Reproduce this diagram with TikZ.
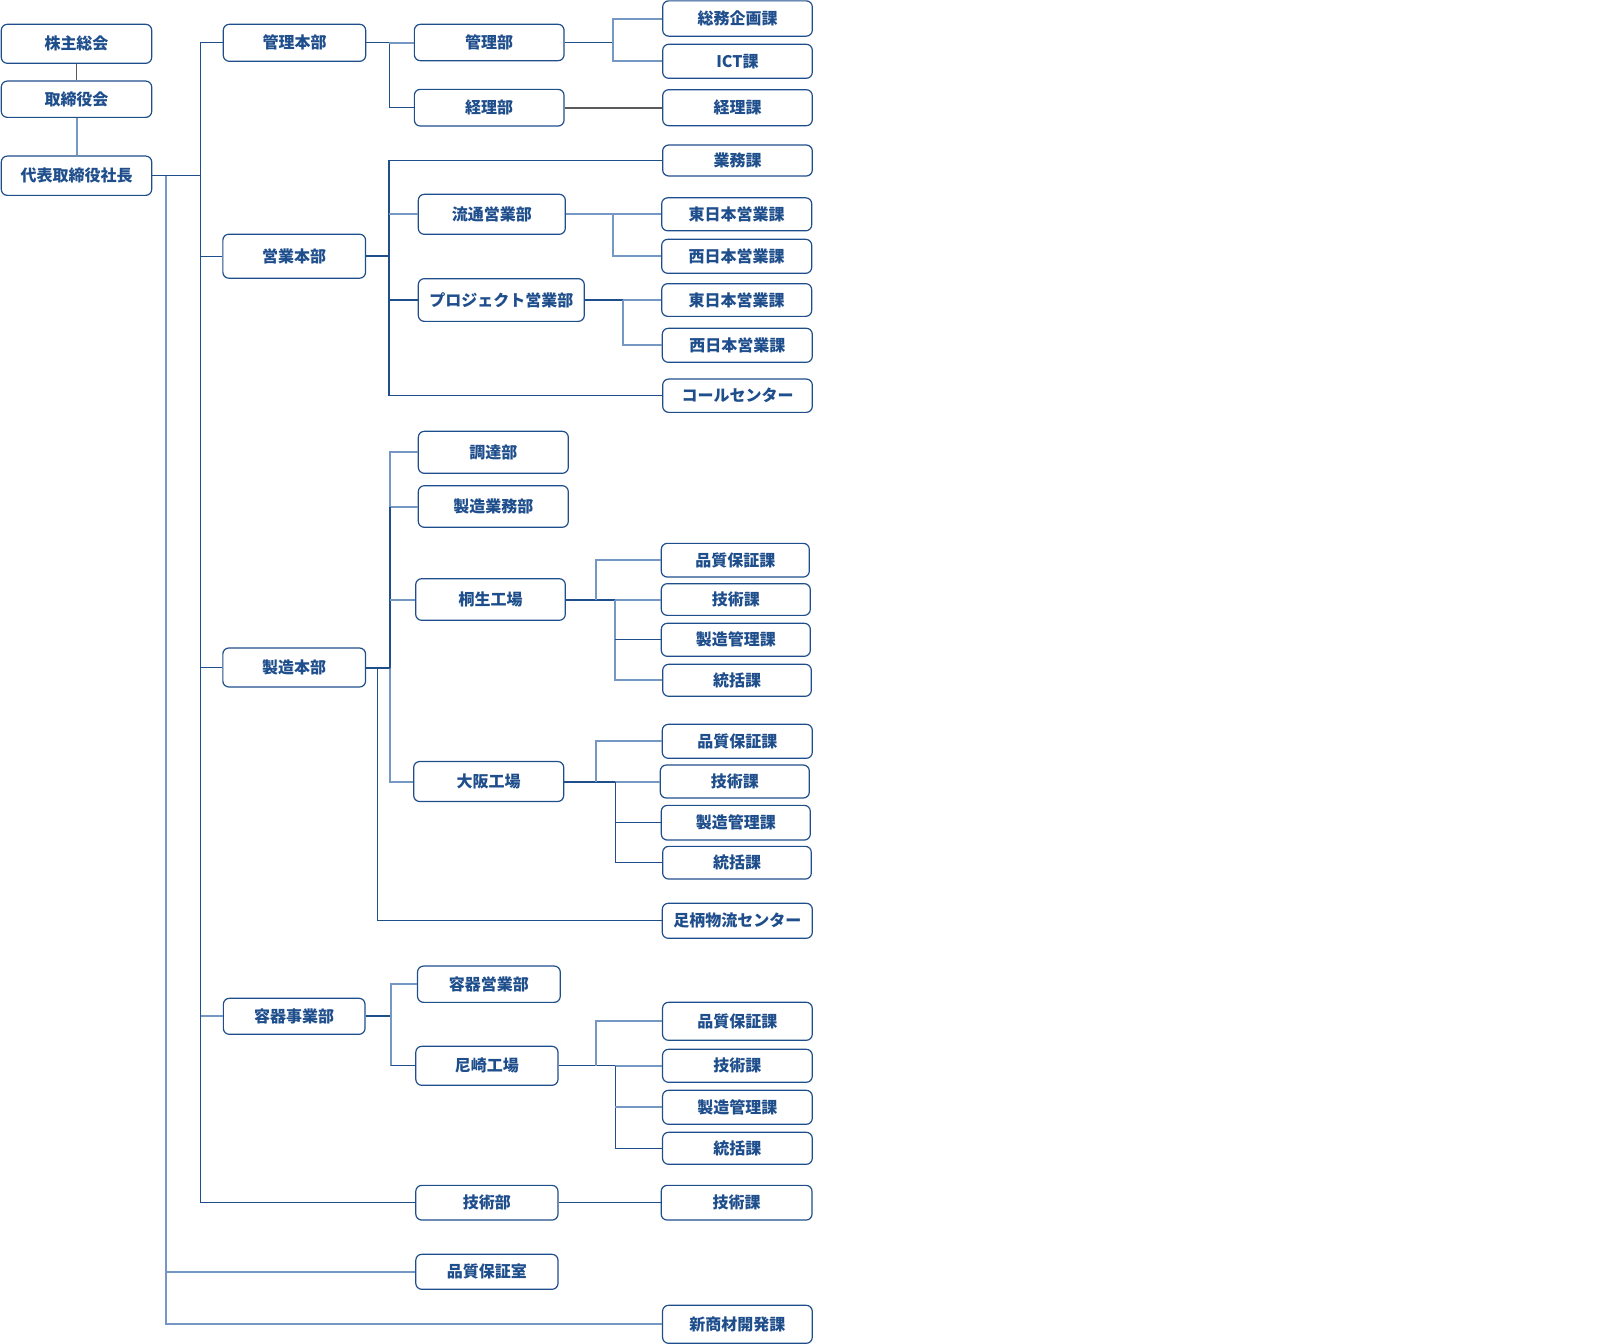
\documentclass[tikz,border=0pt]{standalone}
\usepackage{fontspec}
\setmainfont{Noto Sans CJK JP}
\definecolor{dk}{HTML}{1F4E8C}
\definecolor{lt}{HTML}{7597C4}
\definecolor{gy}{HTML}{5A5A5A}
\tikzset{
  box/.style={draw=dk, line width=1.2pt, rounded corners=6pt, fill=white, text=dk,
    font=\bfseries\fontsize{16}{18}\selectfont, inner sep=0pt, align=center},
  dl/.style={draw=dk, line width=1.3pt},
  dlt/.style={draw=dk, line width=2pt},
  ll/.style={draw=lt, line width=2pt},
  gl/.style={draw=gy, line width=1.6pt},
}
\begin{document}
\begin{tikzpicture}[x=1pt,y=-1pt]
\useasboundingbox (0,0) rectangle (1610,1344);
% level 0
\node[box, minimum width=150.4pt, minimum height=39pt] (kabu) at (76.5,43.8) {株主総会};
\node[box, minimum width=150.4pt, minimum height=36.3pt] (tori) at (76.5,99.2) {取締役会};
\node[box, minimum width=150.4pt, minimum height=39.3pt] (pres) at (76.5,175.7) {代表取締役社長};
% level 1
\node[box, minimum width=142.4pt, minimum height=37pt] (kanri) at (294.5,42.8) {管理本部};
\node[box, minimum width=142.7pt, minimum height=44pt] (eigyo) at (294.2,256.2) {営業本部};
\node[box, minimum width=142.7pt, minimum height=39pt] (seizo) at (294.2,667.5) {製造本部};
\node[box, minimum width=141.7pt, minimum height=36pt] (yoki) at (294.2,1016.3) {容器事業部};
\node[box, minimum width=142.2pt, minimum height=34.7pt] (gijutsubu) at (486.9,1202.7) {技術部};
\node[box, minimum width=142.2pt, minimum height=35pt] (hinshitsu) at (486.9,1271.8) {品質保証室};
\node[box, minimum width=149.7pt, minimum height=38pt] (shinsho) at (737.4,1324.3) {新商材開発課};
% level 2
\node[box, minimum width=149.7pt, minimum height=36.4pt] (kanribu) at (489.2,42.5) {管理部};
\node[box, minimum width=149.7pt, minimum height=36.7pt] (keiribu) at (489.2,107.7) {経理部};
\node[box, minimum width=147pt, minimum height=40pt] (ryutsu) at (491.8,214.3) {流通営業部};
\node[box, minimum width=166pt, minimum height=42.7pt] (project) at (501.3,300) {プロジェクト営業部};
\node[box, minimum width=150pt, minimum height=42pt] (chotatsu) at (493.3,452.3) {調達部};
\node[box, minimum width=150pt, minimum height=41.6pt] (seizogyomu) at (493.3,506.5) {製造業務部};
\node[box, minimum width=149.6pt, minimum height=41.6pt] (kiryu) at (490.5,599.5) {桐生工場};
\node[box, minimum width=150pt, minimum height=40pt] (osaka) at (488.7,781.5) {大阪工場};
\node[box, minimum width=142.7pt, minimum height=36.3pt] (yokieigyo) at (488.9,984.2) {容器営業部};
\node[box, minimum width=142.2pt, minimum height=39pt] (amagasaki) at (486.9,1065.8) {尼崎工場};
% level 3
\node[box, minimum width=149.6pt, minimum height=35.3pt] (somu) at (737.5,18.5) {総務企画課};
\node[box, minimum width=149.6pt, minimum height=34pt] (ict) at (737.5,61.3) {ICT課};
\node[box, minimum width=149.6pt, minimum height=36pt] (keirika) at (737.5,107.7) {経理課};
\node[box, minimum width=149.6pt, minimum height=31pt] (gyomu) at (737.5,160.5) {業務課};
\node[box, minimum width=150pt, minimum height=33pt] (higashi1) at (736.7,214.3) {東日本営業課};
\node[box, minimum width=150pt, minimum height=34pt] (nishi1) at (736.7,256.3) {西日本営業課};
\node[box, minimum width=150pt, minimum height=32.7pt] (higashi2) at (736.7,300) {東日本営業課};
\node[box, minimum width=150pt, minimum height=34pt] (nishi2) at (737.3,345.3) {西日本営業課};
\node[box, minimum width=149.6pt, minimum height=33.3pt] (call) at (737.5,395.7) {コールセンター};
\node[box, minimum width=148pt, minimum height=33.7pt] (hin1) at (735.3,560.2) {品質保証課};
\node[box, minimum width=149pt, minimum height=31.7pt] (gi1) at (735.8,599.5) {技術課};
\node[box, minimum width=149pt, minimum height=33pt] (kan1) at (735.8,639.8) {製造管理課};
\node[box, minimum width=148.6pt, minimum height=32pt] (tok1) at (737,680.3) {統括課};
\node[box, minimum width=150pt, minimum height=34pt] (hin2) at (737.3,741.3) {品質保証課};
\node[box, minimum width=149pt, minimum height=33pt] (gi2) at (734.8,781.5) {技術課};
\node[box, minimum width=149pt, minimum height=34.7pt] (kan2) at (735.8,822.7) {製造管理課};
\node[box, minimum width=148.6pt, minimum height=32.7pt] (tok2) at (737,862.7) {統括課};
\node[box, minimum width=150pt, minimum height=35pt] (ashigara) at (737.3,920.8) {足柄物流センター};
\node[box, minimum width=149.7pt, minimum height=38pt] (hin3) at (737.4,1021.3) {品質保証課};
\node[box, minimum width=149.7pt, minimum height=33pt] (gi3) at (737.4,1065.8) {技術課};
\node[box, minimum width=149.7pt, minimum height=34pt] (kan3) at (737.4,1107.3) {製造管理課};
\node[box, minimum width=149.7pt, minimum height=32pt] (tok3) at (737.4,1148.3) {統括課};
\node[box, minimum width=150.8pt, minimum height=34.7pt] (gi4) at (736.6,1202.7) {技術課};
% trunk x positions
\coordinate (T1) at (200.7,0);
\coordinate (T2) at (166,0);
\coordinate (M1) at (389.3,0);
\coordinate (B1) at (612.7,0);
\coordinate (S1) at (389,0);
\coordinate (B2) at (613.3,0);
\coordinate (B3) at (623.3,0);
\coordinate (P1) at (390,0);
\coordinate (Q1) at (377.3,0);
\coordinate (K1) at (595.7,0);
\coordinate (K2) at (615.3,0);
\coordinate (R1) at (390.6,0);
% top
\draw[gl] (kabu.south) -- (tori.north);
\draw[ll] (tori.south) -- (pres.north);
\draw[dl] (pres.east) -- (pres.east -| T1);
\draw[dl] (kanri.west) -| (gijutsubu.west -| T1) -- (gijutsubu.west);
\draw[dl] (eigyo.west) -- (eigyo.west -| T1);
\draw[dl] (seizo.west) -- (seizo.west -| T1);
\draw[ll] (yoki.west) -- (yoki.west -| T1);
\draw[ll] (pres.east -| T2) |- (shinsho.west);
\draw[ll] (hinshitsu.west) -- (hinshitsu.west -| T2);
% management
\draw[dl] (kanri.east) -| (keiribu.west -| M1) -- (keiribu.west);
\draw[ll] (kanribu.west -| M1) -- (kanribu.west);
\draw[dl] (kanribu.east) -- (kanribu.east -| B1);
\draw[ll] (somu.west) -| (ict.west -| B1) -- (ict.west);
\draw[gl] (keiribu.east) -- (keirika.west);
% sales
\draw[dl] (gyomu.west) -| (call.west -| S1) -- (call.west);
\draw[dlt] (eigyo.east) -- (eigyo.east -| S1);
\draw[ll] (ryutsu.west -| S1) -- (ryutsu.west);
\draw[dl] (project.west -| S1) -- (project.west);
\draw[ll] (ryutsu.east) -- (higashi1.west);
\draw[ll] (ryutsu.east -| B2) |- (nishi1.west);
\draw[dl] (project.east) -- (project.east -| B3);
\draw[ll] (project.east -| B3) -- (higashi2.west);
\draw[ll] (project.east -| B3) |- (nishi2.west);
% manufacturing
\draw[ll] (chotatsu.west) -| (seizogyomu.west -| P1) -- (seizogyomu.west);
\draw[dl] (seizogyomu.west -| P1) -- (seizo.east -| P1);
\draw[ll] (seizo.east -| P1) |- (osaka.west);
\draw[ll] (kiryu.west -| P1) -- (kiryu.west);
\draw[dlt] (seizo.east) -- (seizo.east -| P1);
\draw[dl] (seizo.east -| Q1) |- (ashigara.west);
% kiryu
\draw[dlt] (kiryu.east) -- (kiryu.east -| K2);
\draw[ll] (kiryu.east -| K1) |- (hin1.west);
\draw[ll] (kiryu.east -| K2) -- (gi1.west);
\draw[ll] (kiryu.east -| K2) |- (tok1.west);
\draw[dl] (kan1.west -| K2) -- (kan1.west);
% osaka
\draw[dlt] (osaka.east) -- (osaka.east -| K2);
\draw[ll] (osaka.east -| K1) |- (hin2.west);
\draw[ll] (osaka.east -| K2) -- (gi2.west);
\draw[dl] (osaka.east -| K2) |- (tok2.west);
\draw[dl] (kan2.west -| K2) -- (kan2.west);
% container
\draw[dlt] (yoki.east) -- (yoki.east -| R1);
\draw[ll] (yokieigyo.west) -| (amagasaki.west -| R1);
\draw[dl] (amagasaki.west -| R1) -- (amagasaki.west);
\draw[dl] (amagasaki.east) -- (amagasaki.east -| K2);
\draw[ll] (amagasaki.east -| K1) |- (hin3.west);
\draw[ll] (amagasaki.east -| K2) -- (gi3.west);
\draw[dl] (amagasaki.east -| K2) |- (tok3.west);
\draw[ll] (kan3.west -| K2) -- (kan3.west);
% technology
\draw[dl] (gijutsubu.east) -- (gi4.west);
\end{tikzpicture}
\end{document}
